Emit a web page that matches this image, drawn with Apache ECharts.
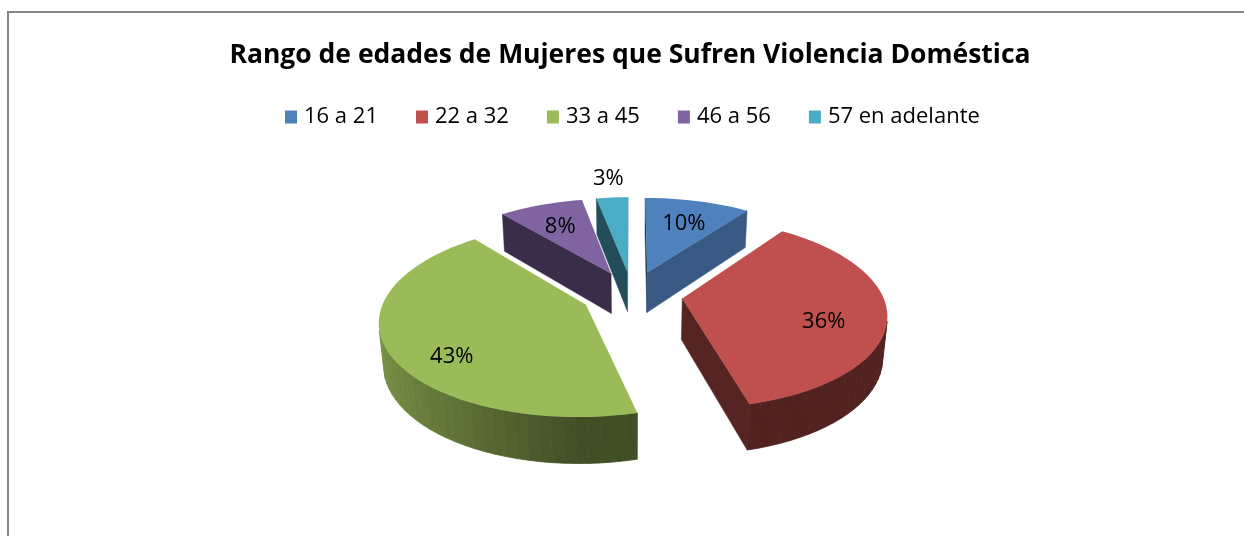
<!DOCTYPE html>
<html><head><meta charset="utf-8">
<script src="https://cdn.jsdelivr.net/npm/echarts@6/dist/echarts.min.js"></script>
<style>html,body{margin:0;padding:0;background:#fff}#c{width:1244px;height:536px}</style>
</head><body><div id="c"></div>
<script>
// ---- data ----
const chartTitle = 'Rango de edades de Mujeres que Sufren Violencia Doméstica';
const categories = ['16 a 21', '22 a 32', '33 a 45', '46 a 56', '57 en adelante'];
const values = [10, 36, 43, 8, 3];
const colors = ['#4F81BD', '#C0504D', '#9BBB59', '#8064A2', '#4BACC6'];

// ---- 3D pie geometry (style) ----
const G = {cx: 632, cy: 294, R: 200, sa: 0.459, D: 5.9, h: 0.235, E: 0.254, steps: 120};
G.ca = Math.sqrt(1 - G.sa * G.sa);
const cam = [0, G.D * G.sa, -G.D * G.ca];
function proj(q) {
  const X = q[0], Y = q[1], Z = q[2];
  const up = Y * G.ca + Z * G.sa, fwd = Z * G.ca - Y * G.sa, s = G.D / (G.D + fwd);
  return [G.cx + G.R * X * s, G.cy - G.R * up * s];
}
function depth(q) { return q[2] * G.ca - q[1] * G.sa; }
function visible(p, n) {
  return (cam[0] - p[0]) * n[0] + (cam[1] - p[1]) * n[1] + (cam[2] - p[2]) * n[2] > 0;
}
function shade(hex, f) {
  const n = parseInt(hex.slice(1), 16);
  const r = Math.round(((n >> 16) & 255) * f), g = Math.round(((n >> 8) & 255) * f), b = Math.round((n & 255) * f);
  return 'rgb(' + r + ',' + g + ',' + b + ')';
}
const total = values.reduce((a, b) => a + b, 0);
let acc = 0;
const slices = values.map((v, i) => {
  const a0 = acc / total * 2 * Math.PI;
  acc += v;
  const a1 = acc / total * 2 * Math.PI;
  const m = (a0 + a1) / 2;
  return {a0, a1, m, ox: G.E * Math.sin(m), oz: G.E * Math.cos(m)};
});
const order = slices.map((s, i) => i).sort((a, b) => {
  const da = depth([slices[a].ox + 0.5 * Math.sin(slices[a].m), 0, slices[a].oz + 0.5 * Math.cos(slices[a].m)]);
  const db = depth([slices[b].ox + 0.5 * Math.sin(slices[b].m), 0, slices[b].oz + 0.5 * Math.cos(slices[b].m)]);
  return db - da;
});

function makeRender(i) {
  return function (params, api) {
    const v = api.value(0);
    const sl = slices[i];
    const col = colors[i];
    const P = (r, t, Y) => [sl.ox + r * Math.sin(t), Y, sl.oz + r * Math.cos(t)];
    const children = [];
    const n = Math.max(3, Math.ceil((sl.a1 - sl.a0) / (2 * Math.PI) * G.steps));
    // radial cut walls
    [[sl.a0, [-Math.cos(sl.a0), 0, Math.sin(sl.a0)]], [sl.a1, [Math.cos(sl.a1), 0, -Math.sin(sl.a1)]]].forEach(([t, nv]) => {
      const c0 = P(0, 0, 0), o0 = P(1, t, 0), o1 = P(1, t, -G.h), c1 = P(0, 0, -G.h);
      const mid = [(c0[0] + o0[0]) / 2, -G.h / 2, (c0[2] + o0[2]) / 2];
      if (visible(mid, nv)) {
        const c = shade(col, 0.45 + 0.3 * Math.max(0, nv[0]));
        children.push({type: 'polygon', shape: {points: [c0, o0, o1, c1].map(proj)},
          style: {fill: c, stroke: c, lineWidth: 0.5}});
      }
    });
    // outer curved wall
    for (let j = 0; j < n; j++) {
      const t0 = sl.a0 + (sl.a1 - sl.a0) * j / n, t1 = sl.a0 + (sl.a1 - sl.a0) * (j + 1) / n, tm = (t0 + t1) / 2;
      const nv = [Math.sin(tm), 0, Math.cos(tm)];
      if (!visible(P(1, tm, -G.h / 2), nv)) continue;
      const f = 0.42 + 0.36 * Math.max(0, -Math.sin(tm));
      const c = shade(col, f);
      children.push({type: 'polygon', shape: {points: [P(1, t0, 0), P(1, t1, 0), P(1, t1, -G.h), P(1, t0, -G.h)].map(proj)},
        style: {fill: c, stroke: c, lineWidth: 0.8}});
    }
    // top face
    const pts = [proj(P(0, 0, 0))];
    for (let j = 0; j <= n; j++) pts.push(proj(P(1, sl.a0 + (sl.a1 - sl.a0) * j / n, 0)));
    children.push({type: 'polygon', shape: {points: pts}, style: {fill: col}});
    // label
    const pct = Math.round(v / total * 100) + '%';
    const ly = -0.02 + 0.2 * Math.min(0, Math.cos(sl.m));
    const lp = v / total < 0.05 ? proj(P(1.3, sl.m, 0)) : proj(P(0.7, sl.m, ly));
    children.push({type: 'text', x: lp[0], y: lp[1], z2: 10,
      style: {text: pct, fill: '#000', font: '22px "Open Sans"', align: 'center', verticalAlign: 'middle'}});
    return {type: 'group', children};
  };
}

const chart = echarts.init(document.getElementById('c'), null, {renderer: 'canvas'});
const series = categories.map((name, i) => ({
  type: 'custom', name, coordinateSystem: 'none',
  z: 2 + order.indexOf(i),
  itemStyle: {color: colors[i]},
  data: [[values[i]]],
  renderItem: makeRender(i)
}));
chart.setOption({
  animation: false,
  backgroundColor: '#fff',
  title: {text: chartTitle, left: 625, top: 35, textAlign: 'center',
    textStyle: {fontFamily: 'Open Sans', fontWeight: 'bold', fontSize: 26.5, lineHeight: 30, color: '#000'}},
  legend: {data: categories, left: 280, top: 101, icon: 'rect', itemWidth: 12, itemHeight: 13, itemGap: 38,
    textStyle: {fontFamily: 'Open Sans', fontSize: 22, lineHeight: 22, color: '#000', padding: [0, 0, 0, 2]}},
  graphic: [{type: 'rect', shape: {x: 8, y: 12, width: 1260, height: 600}, style: {fill: 'none', stroke: '#868686', lineWidth: 2}, silent: true}],
  series
});
</script></body></html>
